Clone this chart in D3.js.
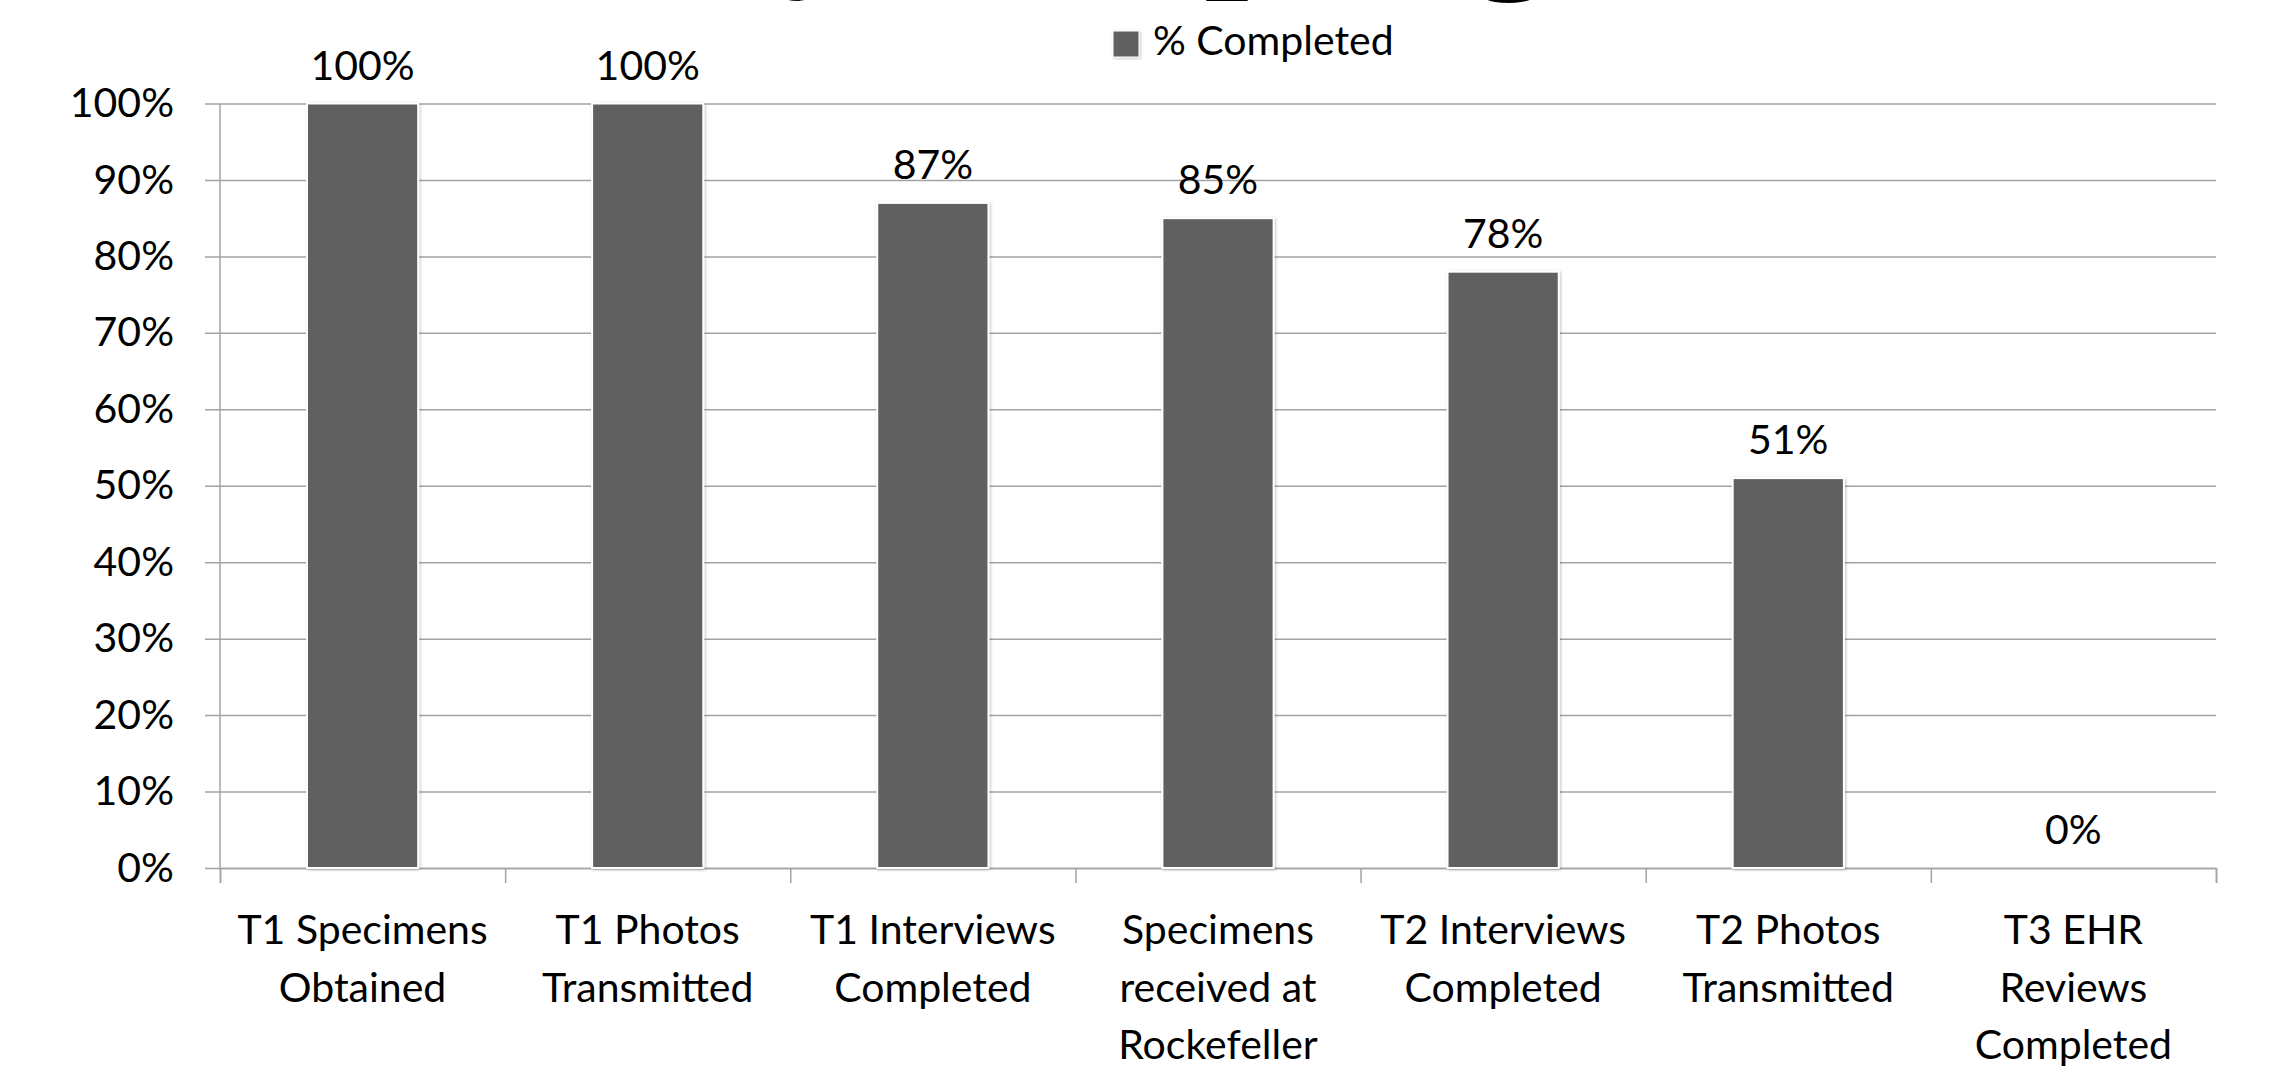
<!DOCTYPE html>
<html>
<head>
<meta charset="utf-8">
<script src="https://cdn.jsdelivr.net/npm/d3@7"></script>
<style>
  html, body { margin: 0; padding: 0; background: #fff; }
  svg { display: block; }
  text { font-family: Lato, "Open Sans", sans-serif; fill: #000; }
</style>
</head>
<body>
<div id="chart"></div>
<script>
// chart data
var categories = [
  "T1 Specimens Obtained",
  "T1 Photos Transmitted",
  "T1 Interviews Completed",
  "Specimens received at Rockefeller",
  "T2 Interviews Completed",
  "T2 Photos Transmitted",
  "T3 EHR Reviews Completed"
];
var labelLines = [
  ["T1 Specimens", "Obtained"],
  ["T1 Photos", "Transmitted"],
  ["T1 Interviews", "Completed"],
  ["Specimens", "received at", "Rockefeller"],
  ["T2 Interviews", "Completed"],
  ["T2 Photos", "Transmitted"],
  ["T3 EHR", "Reviews", "Completed"]
];
var completed = [100, 100, 87, 85, 78, 51, 0];
var yTicks = [0, 10, 20, 30, 40, 50, 60, 70, 80, 90, 100];
var seriesName = "% Completed";
var titleText = "Study Sampling";

(function() {
  var W = 2284, H = 1073;
  var plotLeft = 220, plotRight = 2216, plotTop = 103.5, plotBottom = 868;
  var barColor = "#606060";
  var gridColor = "#a3a3a3";
  var fontSize = 41;

  var svg = d3.select("#chart").append("svg")
    .attr("width", W)
    .attr("height", H);

  // soft shadow like the office chart bars
  var defs = svg.append("defs");
  var f = defs.append("filter").attr("id", "shadow")
    .attr("x", "-10%").attr("y", "-10%").attr("width", "120%").attr("height", "120%");
  f.append("feDropShadow")
    .attr("dx", 1).attr("dy", 1).attr("stdDeviation", 1.5)
    .attr("flood-color", "#000").attr("flood-opacity", 0.25);

  // title, only its descenders are visible at the top edge
  var title = svg.append("text")
    .attr("x", 0)
    .attr("y", -33)
    .style("font-family", "'Liberation Serif', serif")
    .style("font-weight", "bold")
    .style("font-size", "160px")
    .text(titleText);
  var yPos = title.node().getStartPositionOfChar(4).x;
  var yW = title.node().getSubStringLength(4, 1);
  title.attr("x", 822 - (yPos + yW / 2));

  var x = d3.scaleBand()
    .domain(categories)
    .range([plotLeft, plotRight])
    .paddingInner(0.61)
    .paddingOuter(0.305);

  var y = d3.scaleLinear()
    .domain([0, 100])
    .range([plotBottom, plotTop]);

  // gridlines + y labels
  var yAxis = svg.append("g")
    .attr("transform", "translate(" + (plotLeft - 15) + ",0)")
    .call(d3.axisLeft(y)
      .tickValues(yTicks)
      .tickSize(-(plotRight - plotLeft + 15))
      .tickPadding(31)
      .tickFormat(function(d) { return d + "%"; }));
  yAxis.select(".domain").remove();
  yAxis.selectAll(".tick line").attr("stroke", gridColor).attr("stroke-width", 1.5);
  yAxis.selectAll(".tick text")
    .style("font-size", fontSize + "px")
    .style("font-family", "Lato, sans-serif")
    .attr("fill", "#000");

  // vertical axis line
  svg.append("line")
    .attr("x1", plotLeft).attr("x2", plotLeft)
    .attr("y1", plotTop).attr("y2", plotBottom)
    .attr("stroke", gridColor).attr("stroke-width", 1.5);

  // category boundary ticks along the bottom
  var xb = d3.scaleLinear().domain([0, categories.length]).range([plotLeft, plotRight]);
  var xAxis = svg.append("g")
    .attr("transform", "translate(0," + plotBottom + ")")
    .call(d3.axisBottom(xb)
      .ticks(categories.length)
      .tickSize(15)
      .tickFormat(""));
  xAxis.select(".domain").attr("stroke", gridColor).attr("stroke-width", 1.5);
  xAxis.selectAll(".tick line").attr("stroke", gridColor).attr("stroke-width", 1.5);

  // bars
  svg.append("g").selectAll("rect")
    .data(completed)
    .join("rect")
    .attr("x", function(d, i) { return x(categories[i]); })
    .attr("width", x.bandwidth())
    .attr("y", function(d) { return y(d); })
    .attr("height", function(d) { return y(0) - y(d); })
    .attr("fill", barColor)
    .attr("stroke", "#fff")
    .attr("stroke-width", 2)
    .attr("filter", "url(#shadow)");

  // value labels
  svg.append("g").selectAll("text")
    .data(completed)
    .join("text")
    .attr("x", function(d, i) { return x(categories[i]) + x.bandwidth() / 2; })
    .attr("y", function(d) { return y(d) - 24; })
    .attr("text-anchor", "middle")
    .style("font-size", fontSize + "px")
    .text(function(d) { return d + "%"; });

  // category labels
  var cat = svg.append("g").selectAll("text")
    .data(labelLines)
    .join("text")
    .attr("text-anchor", "middle")
    .style("font-size", fontSize + "px");
  cat.each(function(lines, i) {
    var cx = x(categories[i]) + x.bandwidth() / 2;
    d3.select(this).selectAll("tspan")
      .data(lines)
      .join("tspan")
      .attr("x", cx)
      .attr("y", function(d, j) { return 944 + j * 57.5; })
      .text(function(d) { return d; });
  });

  // legend
  var legend = svg.append("g").attr("transform", "translate(1113,31)");
  legend.append("rect")
    .attr("width", 26).attr("height", 26)
    .attr("fill", barColor)
    .attr("stroke", "#fff").attr("stroke-width", 1)
    .attr("filter", "url(#shadow)");
  legend.append("text")
    .attr("x", 40).attr("y", 24)
    .style("font-size", fontSize + "px")
    .text(seriesName);
})();
</script>
</body>
</html>
